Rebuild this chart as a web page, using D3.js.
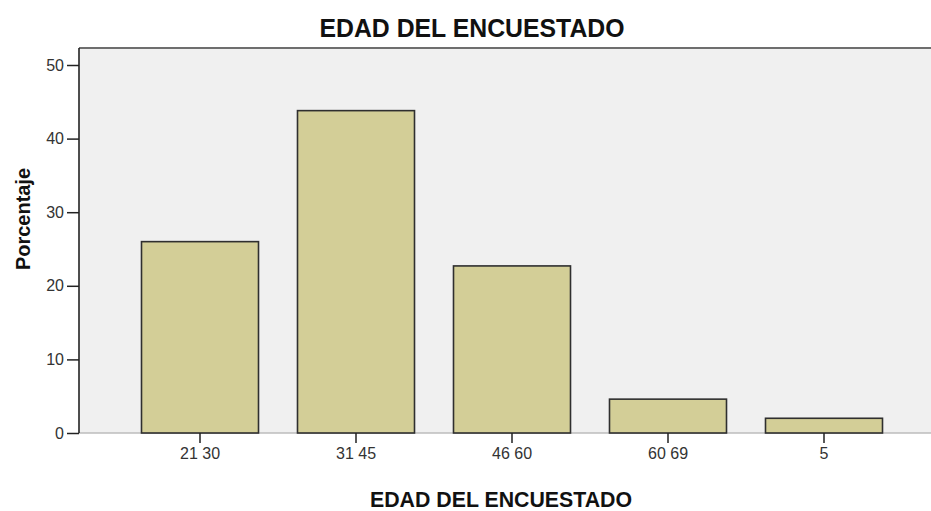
<!DOCTYPE html>
<html>
<head>
<meta charset="utf-8">
<script src="https://cdn.jsdelivr.net/npm/d3@7"></script>
<style>
  body { margin: 0; background: #fff; }
  text { font-family: "Liberation Sans", Arial, sans-serif; }
</style>
</head>
<body>
<div id="chart"></div>
<script>
// data
var categories = ["21 30", "31 45", "46 60", "60 69", "5"];
var values = [26, 43.8, 22.7, 4.6, 2.0];
var yTicks = [0, 10, 20, 30, 40, 50];

var W = 931, H = 511;
var margin = {top: 48, right: 0, bottom: 78, left: 79},
    width = W - margin.left - margin.right,
    height = H - margin.top - margin.bottom;

var svg = d3.select("#chart")
  .append("svg")
    .attr("width", W)
    .attr("height", H);

// plot background
svg.append("rect")
  .attr("x", margin.left).attr("y", margin.top)
  .attr("width", width).attr("height", height)
  .attr("fill", "#f0f0f0");

// top frame line
svg.append("line")
  .attr("x1", margin.left).attr("x2", W)
  .attr("y1", margin.top).attr("y2", margin.top)
  .attr("stroke", "#6e6e6e").attr("stroke-width", 2);

var g = svg.append("g")
  .attr("transform", "translate(" + margin.left + "," + margin.top + ")");

var x = d3.scaleBand()
  .domain(categories)
  .range([122 - margin.left, 902 - margin.left])
  .paddingInner(0.25)
  .paddingOuter(0.125);

var y = d3.scaleLinear()
  .domain([0, 50])
  .range([height, 65 - margin.top]);

// baseline
g.append("line")
  .attr("x1", 0).attr("x2", width)
  .attr("y1", height).attr("y2", height)
  .attr("stroke", "#bdbdbd").attr("stroke-width", 1.5);

// bars
g.selectAll("rect.bar")
  .data(values)
  .enter().append("rect")
    .attr("class", "bar")
    .attr("x", function(d, i) { return x(categories[i]); })
    .attr("y", function(d) { return y(d); })
    .attr("width", x.bandwidth())
    .attr("height", function(d) { return height - y(d); })
    .attr("fill", "#d3ce97")
    .attr("stroke", "#2f2f2f")
    .attr("stroke-width", 1.6);

// x axis
var xAxis = g.append("g")
  .attr("transform", "translate(0," + height + ")")
  .call(d3.axisBottom(x).tickSize(10).tickPadding(5));
xAxis.select(".domain").remove();
xAxis.selectAll("line").attr("stroke", "#222").attr("stroke-width", 1.5);
xAxis.selectAll("text")
  .attr("font-size", 16)
  .attr("fill", "#333")
  .style("font-family", "'Liberation Sans Narrow', 'Liberation Sans', Arial, sans-serif");

// y axis
var yAxis = g.append("g")
  .call(d3.axisLeft(y).tickValues(yTicks).tickSize(12).tickPadding(3));
yAxis.select(".domain")
  .attr("d", "M0," + (y(50) - 17) + "V" + height)
  .attr("stroke", "#222").attr("stroke-width", 1.6);
yAxis.selectAll("line").attr("stroke", "#222").attr("stroke-width", 1.5);
yAxis.selectAll("text")
  .attr("font-size", 16)
  .attr("fill", "#333")
  .style("font-family", "'Liberation Sans Narrow', 'Liberation Sans', Arial, sans-serif");

// titles
svg.append("text")
  .attr("x", 472).attr("y", 37)
  .attr("text-anchor", "middle")
  .attr("font-size", 25).attr("font-weight", "bold")
  .attr("fill", "#111")
  .attr("textLength", 305).attr("lengthAdjust", "spacingAndGlyphs")
  .text("EDAD DEL ENCUESTADO");

svg.append("text")
  .attr("x", 501).attr("y", 507)
  .attr("text-anchor", "middle")
  .attr("font-size", 22).attr("font-weight", "bold")
  .attr("fill", "#111")
  .attr("textLength", 262).attr("lengthAdjust", "spacingAndGlyphs")
  .text("EDAD DEL ENCUESTADO");

svg.append("text")
  .attr("transform", "translate(30,219) rotate(-90)")
  .attr("text-anchor", "middle")
  .attr("font-size", 20).attr("font-weight", "bold")
  .attr("fill", "#111")
  .attr("textLength", 102).attr("lengthAdjust", "spacingAndGlyphs")
  .text("Porcentaje");
</script>
</body>
</html>
